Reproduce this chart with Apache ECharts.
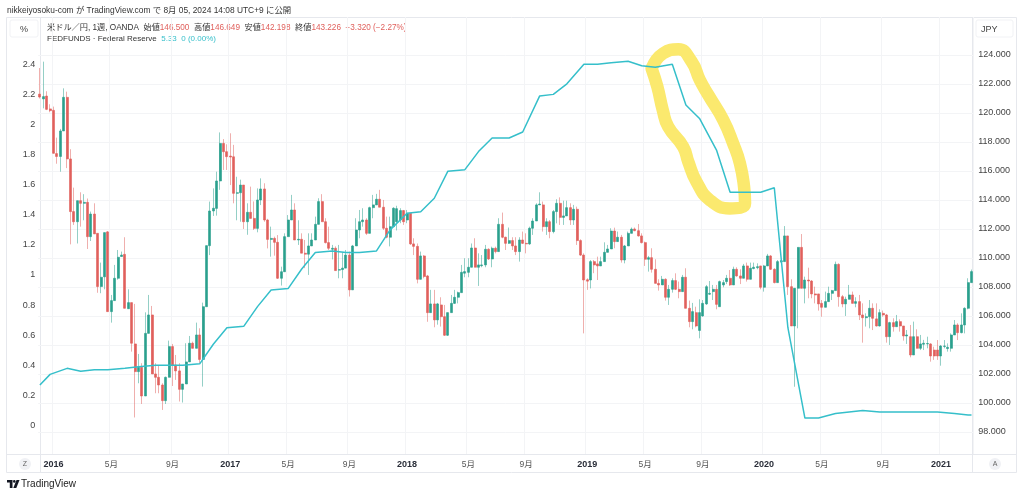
<!DOCTYPE html>
<html>
<head>
<meta charset="utf-8">
<title>USDJPY / FEDFUNDS</title>
<script src="https://cdn.jsdelivr.net/npm/echarts@6/dist/echarts.min.js"></script>
<style>
html,body{margin:0;padding:0;background:#fff;}
#main{width:1024px;height:496px;}
</style>
</head>
<body>
<div id="main"></div>
<script>
// weekly USD/JPY
var opens = [
121.3,120.97,121.17,120.28,120.18,117.2,117.0,118.76,121.08,116.83,
113.2,112.5,113.95,113.77,113.84,111.47,113.03,111.7,108.03,108.7,
111.8,106.3,107.06,108.6,110.1,110.25,106.5,106.92,104.07,102.16,
102.46,100.48,104.8,106.07,102.0,101.77,101.24,100.16,101.77,103.89,
102.62,102.21,100.94,101.31,102.83,104.12,103.77,104.69,103.0,106.64,
110.85,113.24,113.42,115.31,117.9,117.33,117.03,116.98,114.46,114.5,
115.03,112.5,113.15,112.73,112.04,114.0,114.76,112.62,111.28,111.35,
111.08,108.6,109.05,111.47,112.62,113.31,111.24,111.29,110.33,110.26,
110.83,111.24,112.32,113.89,112.5,111.06,110.6,110.67,109.16,109.2,
109.3,110.2,107.8,110.83,111.93,112.5,112.62,111.7,113.47,113.66,
114.05,113.5,112.05,111.43,112.16,112.5,112.62,113.27,112.62,113.08,
110.97,110.8,108.53,110.14,108.76,106.23,106.83,105.73,106.76,105.95,
104.67,106.23,106.87,107.29,107.61,108.95,109.01,109.36,110.69,109.36,
109.47,109.52,110.6,109.93,110.67,110.44,112.32,111.43,111.01,111.2,
110.83,110.44,111.24,111.01,110.97,112.05,112.55,113.66,113.66,112.16,
112.5,111.82,113.2,113.77,112.8,112.9,113.47,112.62,113.36,111.2,
110.2,108.5,108.48,109.75,109.59,109.45,109.75,110.39,110.62,111.86,
111.13,111.43,109.86,110.83,111.7,112.0,111.88,111.52,111.06,109.91,
110.02,109.22,108.25,108.14,108.53,107.29,107.84,108.44,107.84,107.68,
108.67,106.53,105.61,106.23,105.0,106.0,106.83,107.5,107.68,107.84,
106.64,108.14,108.37,108.6,108.14,109.22,108.76,108.6,109.45,108.53,
109.27,109.33,109.45,107.98,109.45,110.14,109.22,108.3,109.75,109.75,
111.52,108.02,105.31,107.91,110.73,107.91,108.48,108.41,107.52,107.52,
106.87,106.6,106.99,107.56,107.75,109.56,107.33,106.83,107.15,107.45,
106.87,106.99,106.07,105.88,105.95,106.53,105.8,105.31,106.18,106.07,
104.57,105.54,105.26,105.61,105.31,104.62,104.57,103.31,104.57,103.77,
104.05,104.07,104.07,103.65,103.65,103.24,103.9,103.75,103.77,104.69,
105.38,104.85,105.38,106.53,108.3];
var closes = [
121.1,121.13,120.25,120.16,117.22,117.0,118.76,121.08,116.83,113.2,
112.5,113.95,113.77,113.84,111.47,113.03,111.66,108.03,108.67,111.75,
106.3,107.06,108.6,110.05,110.2,106.53,106.92,104.12,102.16,102.46,
100.48,104.8,106.07,102.0,101.77,101.24,100.16,101.77,103.89,102.62,
102.21,100.94,101.31,102.83,104.12,103.77,104.69,103.0,106.64,110.85,
113.24,113.43,115.31,117.9,117.33,116.99,116.96,114.46,114.5,115.03,
112.5,113.15,112.73,112.04,114.0,114.76,112.62,111.28,111.35,111.08,
108.6,109.05,111.47,112.62,113.31,111.24,111.29,110.33,110.26,110.83,
111.24,112.32,113.89,112.5,111.06,110.67,110.67,109.13,109.2,109.3,
110.2,107.8,110.83,111.93,112.5,112.62,111.7,113.47,113.66,114.05,
113.5,112.05,111.43,112.16,113.43,113.4,113.27,112.5,113.08,110.97,
110.8,108.53,110.14,108.72,106.23,106.83,105.73,106.83,105.95,104.67,
106.23,106.87,107.29,107.61,109.01,109.06,109.36,110.69,109.36,109.52,
109.52,110.6,109.93,110.67,110.44,112.32,111.43,111.01,111.2,110.83,
110.44,111.24,111.01,110.97,112.05,112.55,113.66,113.72,112.16,112.5,
111.82,113.2,113.77,112.8,112.9,113.47,112.62,113.36,111.2,110.2,
108.48,108.4,109.75,109.52,109.45,109.75,110.39,110.62,111.86,111.13,
111.43,109.86,110.83,111.7,111.99,111.88,111.52,111.06,109.91,110.02,
109.22,108.25,108.14,108.53,107.29,107.84,108.44,107.84,107.68,108.67,
106.53,105.61,106.3,105.31,106.23,106.87,108.02,107.56,107.84,106.8,
108.37,108.3,108.6,108.14,109.22,108.76,108.6,109.45,108.53,109.29,
109.36,109.4,107.98,109.45,110.14,109.22,108.3,109.75,109.8,111.52,
108.02,105.31,107.91,110.73,107.91,108.48,108.41,107.52,107.45,106.83,
106.6,106.99,107.56,107.75,109.56,107.33,106.83,107.15,107.45,106.87,
106.99,106.07,105.88,105.95,106.53,105.84,105.31,106.23,106.07,104.57,
105.54,105.26,105.61,105.31,104.62,104.69,103.31,104.57,103.77,104.07,
104.12,104.1,103.24,103.24,103.24,103.93,103.93,103.84,104.69,105.38,
104.85,105.38,106.53,108.3,109.06];
var lows = [
121.0,120.32,120.2,120.05,117.2,116.5,115.95,118.76,116.2,110.94,
112.28,111.0,112.16,112.6,110.62,111.17,111.66,107.6,107.57,107.84,
106.3,105.54,107.06,108.5,110.1,106.53,106.48,103.54,99.0,101.36,
99.93,100.48,104.8,102.0,100.67,100.67,99.52,99.93,101.77,101.17,
101.59,100.1,100.03,101.31,102.83,103.77,103.77,102.74,101.13,106.64,
110.2,112.9,112.92,114.7,116.07,116.07,115.03,113.77,112.6,112.5,
112.0,111.6,112.73,111.93,111.77,113.65,112.5,110.66,110.09,110.16,
108.55,108.1,109.05,111.47,112.62,111.24,110.9,110.33,109.3,108.83,
110.83,111.24,112.32,112.5,111.0,110.55,109.9,109.13,108.6,108.6,
109.3,107.34,107.8,110.83,111.36,112.16,111.59,111.7,112.74,113.66,
113.5,111.93,111.36,110.8,112.16,111.9,112.4,112.28,112.4,110.9,
110.2,108.25,108.53,108.6,105.6,106.23,105.22,105.4,105.27,104.62,
104.62,106.23,106.83,106.87,107.61,108.67,108.67,109.36,109.36,108.07,
109.36,109.36,109.86,109.36,110.32,110.44,111.36,110.55,110.97,110.55,
110.2,109.75,110.97,110.32,110.9,111.59,112.55,113.66,111.82,111.59,
111.36,111.7,112.39,112.28,112.28,112.9,112.28,112.28,110.9,110.14,
104.8,107.8,107.9,108.95,108.48,109.45,109.75,110.39,110.62,110.67,
111.13,109.68,109.63,110.83,111.7,111.85,111.47,111.0,109.45,109.06,
108.99,108.25,107.75,108.14,107.06,106.76,107.61,107.79,107.22,107.68,
106.53,105.22,105.08,105.22,104.46,105.95,106.76,107.45,107.1,106.46,
106.64,107.98,108.2,108.07,108.14,108.71,108.2,108.6,108.37,108.53,
109.22,109.22,107.84,107.68,109.45,109.17,108.25,108.3,109.68,109.75,
107.45,105.31,101.12,105.15,107.91,106.87,107.22,107.22,106.87,106.37,
105.95,106.6,106.99,107.1,107.75,106.64,106.6,106.0,107.15,106.87,
106.6,105.72,104.16,105.27,105.15,105.03,105.27,105.27,105.95,104.16,
104.0,104.92,105.26,104.92,104.3,104.07,103.15,103.31,103.77,103.65,
103.65,103.77,102.85,102.97,102.97,102.57,103.77,103.54,103.54,104.69,
104.34,104.8,104.8,106.46,108.3];
var highs = [
123.1,123.54,121.5,120.6,120.44,118.3,118.9,121.7,121.47,117.5,
114.85,113.95,114.53,114.4,114.1,113.2,113.77,111.7,109.68,111.75,
111.86,107.45,109.52,110.55,110.44,111.43,107.84,106.92,106.83,103.38,
102.74,106.25,107.45,106.69,102.74,102.62,101.36,101.82,104.3,104.07,
103.31,102.74,101.31,104.12,104.62,104.23,105.54,105.15,106.92,110.85,
113.89,114.8,115.95,118.66,118.2,117.84,118.6,117.8,115.6,115.4,
115.03,113.77,114.92,113.9,114.8,115.49,115.15,112.7,112.16,111.47,
111.58,109.4,111.7,112.96,114.35,113.77,112.6,111.7,111.24,111.7,
111.7,112.85,114.12,114.4,112.74,112.16,110.9,110.8,110.9,110.4,
110.55,110.44,110.9,112.74,113.31,113.43,112.74,113.54,114.35,114.42,
114.7,114.0,112.85,112.85,113.5,113.6,113.43,113.31,113.31,113.08,
111.36,111.0,110.44,110.2,108.83,107.8,107.8,106.9,107.29,106.76,
106.23,107.45,107.8,107.68,109.52,109.98,109.98,111.0,111.36,110.32,
110.2,110.9,110.67,110.78,110.78,112.74,113.13,111.47,112.1,111.43,
111.43,111.43,111.82,111.7,112.16,112.74,113.77,114.53,113.89,112.74,
112.62,113.31,114.05,114.18,113.95,113.95,113.77,113.66,113.54,111.29,
110.32,108.6,109.86,109.86,110.09,110.09,111.08,110.9,112.05,112.09,
111.82,111.59,110.9,111.82,112.1,112.1,112.34,111.7,111.13,110.14,
110.67,109.91,108.53,108.76,108.6,108.14,108.6,108.94,108.37,108.83,
109.29,107.06,106.9,106.64,107.15,107.1,108.14,108.41,108.14,108.14,
108.44,108.48,108.83,109.17,109.4,109.36,109.22,109.59,109.68,109.68,
109.68,109.63,109.45,109.52,110.28,110.2,109.29,109.86,109.86,112.2,
111.52,108.53,107.91,110.73,111.65,108.71,109.33,108.48,108.02,107.52,
107.1,107.68,108.02,107.8,109.75,109.63,107.45,107.33,108.14,107.68,
107.29,107.45,106.87,106.18,107.1,106.87,106.87,106.46,106.37,106.14,
105.6,105.84,106.07,105.77,105.31,105.03,105.38,105.61,105.08,104.69,
104.35,104.57,104.12,103.88,104.34,104.0,104.34,104.11,104.8,105.72,
105.5,106.18,106.6,108.6,109.2];

// federal funds rate, one value per month from 2016-01
var fedValues = [
0.34,0.38,0.36,0.37,0.37,0.38,0.39,0.40,0.40,0.40,0.41,0.54,
0.65,0.66,0.79,0.90,0.91,1.04,1.15,1.16,1.15,1.15,1.16,1.30,
1.41,1.42,1.51,1.69,1.70,1.82,1.91,1.91,1.95,2.19,2.20,2.27,
2.40,2.40,2.41,2.42,2.39,2.38,2.40,2.13,2.04,1.83,1.55,1.55,
1.55,1.58,0.65,0.05,0.05,0.08,0.09,0.10,0.09,0.09,0.09,0.09,
0.09,0.08,0.07];
var fedFirst = 0.27, fedLast = 0.07;

// the hand drawn yellow marker: week number and JPY level
var markerWeeks = [179.9,181.6,183.2,184.8,189.2,190.7,193.1,197.1,202.9,207.4,207.1,205.9,203.9,201.0,196.6,194.1,191.7,187.8,183.3,179.9];
var markerLevels = [123.08,121.81,120.2,119.05,117.67,116.64,115.26,113.98,113.42,113.77,114.92,116.52,117.9,119.51,121.24,122.27,123.54,124.39,124.11,123.08];

var tickDates = ['2016-01-04','2016-05-02','2016-09-05','2017-01-02','2017-05-01','2017-09-04','2018-01-01','2018-05-07','2018-09-03','2019-01-07','2019-05-06','2019-09-02','2020-01-06','2020-05-04','2020-09-07','2021-01-04'];
var tickLabels = ['2016','5月','9月','2017','5月','9月','2018','5月','9月','2019','5月','9月','2020','5月','9月','2021'];
var rateTicks = [0,0.2,0.4,0.6,0.8,1,1.2,1.4,1.6,1.8,2,2.2,2.4];
var jpyTicks = [98,100,102,104,106,108,110,112,114,116,118,120,122,124];

var DAY = 86400000;
var startDay = Date.UTC(2015,11,7);
var weeks = [];
for(var i=0;i<opens.length;i++){
	weeks.push(new Date(startDay+i*7*DAY).toISOString().slice(0,10));
}

// wicks and bodies go in two layers, the wicks fainter than the bodies
var wicks = opens.map(function(o,i){
	return [o,closes[i],lows[i],highs[i]];
});
var bodies = opens.map(function(o,i){
	return [o,closes[i],Math.min(o,closes[i]),Math.max(o,closes[i])];
});

// each monthly value sits on the weekly bar holding the 1st of the month
var fedLine = [[0,fedFirst]];
fedValues.forEach(function(v,i){
	var day = Date.UTC(2016,i,1);
	fedLine.push([Math.floor((day-startDay)/(7*DAY)),v]);
});
fedLine.push([opens.length-1,fedLast]);

var marker = markerWeeks.map(function(w,i){return [w,markerLevels[i]];});

var font = '"Liberation Sans","Noto Sans CJK JP",sans-serif';
var gridCol = '#f3f4f6';
var lineCol = '#e6e8ed';
var red = '#e0605c';
var teal = '#2aa08d';
var cyan = '#35bfca';

function isTick(index,value){return tickDates.indexOf(value)>=0;}

var chart = echarts.init(document.getElementById('main'),null,{renderer:'canvas'});

chart.setOption({
	animation:false,
	backgroundColor:'#fff',
	textStyle:{fontFamily:font},
	grid:{left:38.2,top:17,width:935,height:437},
	xAxis:[{
		type:'category',
		data:weeks,
		axisLine:{show:false},
		axisTick:{show:false,alignWithLabel:true,interval:isTick},
		splitLine:{show:true,interval:isTick,lineStyle:{color:gridCol,width:1}},
		axisLabel:{
			interval:isTick,
			margin:6,
			hideOverlap:false,
			formatter:function(v){
				var t = tickLabels[tickDates.indexOf(v)];
				return t.length==4 ? '{y|'+t+'}' : '{m|'+t+'}';
			},
			rich:{
				y:{fontSize:9,fontWeight:'bold',color:'#2a2e39',fontFamily:font},
				m:{fontSize:8.5,color:'#555',fontFamily:font}
			}
		}
	},{
		type:'value',
		min:-0.5,
		max:opens.length-0.5,
		show:false
	}],
	yAxis:[{
		type:'value',
		min:-0.189,
		max:2.714,
		position:'left',
		axisLine:{show:false},
		axisTick:{show:false,customValues:rateTicks},
		splitLine:{show:false},
		axisLabel:{customValues:rateTicks,margin:3,fontSize:9,color:'#444',fontFamily:font}
	},{
		type:'value',
		min:96.48,
		max:126.62,
		position:'right',
		axisLine:{show:false},
		axisTick:{show:false,customValues:jpyTicks},
		splitLine:{show:true,lineStyle:{color:gridCol,width:1}},
		axisLabel:{
			customValues:jpyTicks,
			margin:5,
			fontSize:9,
			color:'#444',
			fontFamily:font,
			formatter:function(v){return v.toFixed(3);}
		}
	}],
	series:[{
		name:'marker',
		type:'line',
		xAxisIndex:1,
		yAxisIndex:1,
		data:marker,
		smooth:0.5,
		showSymbol:false,
		silent:true,
		z:1,
		lineStyle:{color:'#fbe96e',width:12.5,cap:'round',join:'round'}
	},{
		name:'wicks',
		type:'candlestick',
		xAxisIndex:0,
		yAxisIndex:1,
		data:wicks,
		barWidth:1,
		z:2,
		silent:true,
		itemStyle:{color:teal,color0:red,borderColor:teal,borderColor0:red,borderWidth:1,opacity:0.5}
	},{
		name:'USDJPY',
		type:'candlestick',
		xAxisIndex:0,
		yAxisIndex:1,
		data:bodies,
		barWidth:2.4,
		barGap:'-100%',
		z:3,
		itemStyle:{color:teal,color0:red,borderColor:teal,borderColor0:red,borderWidth:0.6}
	},{
		name:'FEDFUNDS',
		type:'line',
		xAxisIndex:1,
		yAxisIndex:0,
		data:fedLine,
		showSymbol:false,
		z:4,
		lineStyle:{color:cyan,width:1.5}
	}],
	graphic:[
		{type:'rect',silent:true,shape:{x:6.5,y:17.5,width:1010,height:455},style:{fill:'none',stroke:lineCol,lineWidth:1}},
		{type:'line',silent:true,shape:{x1:40.5,y1:17,x2:40.5,y2:472},style:{stroke:lineCol,lineWidth:1}},
		{type:'line',silent:true,shape:{x1:972.5,y1:17,x2:972.5,y2:472},style:{stroke:lineCol,lineWidth:1}},
		{type:'line',silent:true,shape:{x1:7,y1:454.5,x2:1017,y2:454.5},style:{stroke:lineCol,lineWidth:1}},
		{type:'rect',silent:true,shape:{x:10,y:20,width:28,height:17,r:2},style:{fill:'#fff',stroke:'#f1f2f5'}},
		{type:'rect',silent:true,shape:{x:976,y:20,width:37,height:17,r:2},style:{fill:'#fff',stroke:'#f1f2f5'}},
		{type:'text',silent:true,style:{text:'%',x:20,y:25,fill:'#444',font:'9px '+font}},
		{type:'text',silent:true,style:{text:'JPY',x:981,y:25,fill:'#444',font:'9px '+font}},
		{type:'text',silent:true,style:{text:'nikkeiyosoku-com が TradingView.com で 8月 05, 2024 14:08 UTC+9 に公開',x:7,y:6,fill:'#333',font:'8.4px '+font}},
		{type:'text',silent:true,style:{
			x:47,y:24,
			text:'{k|米ドル／円, 1週, OANDA  始値}{r|146.500}{k|  高値}{r|146.649}{k|  安値}{r|142.198}{k|  終値}{r|143.226}{r|  −3.320 (−2.27%)}',
			font:'8.2px '+font,
			rich:{k:{fill:'#333',font:'8.2px '+font},r:{fill:red,font:'8.2px '+font}}
		}},
		{type:'text',silent:true,style:{
			x:47,y:35,
			text:'{k|FEDFUNDS · Federal Reserve}{c|  5.33  0 (0.00%)}',
			font:'8px '+font,
			rich:{k:{fill:'#333',font:'8px '+font},c:{fill:cyan,font:'8px '+font}}
		}},
		{type:'circle',silent:true,shape:{cx:25,cy:464,r:6},style:{fill:'#f0f1f5'}},
		{type:'text',silent:true,style:{text:'Z',x:25,y:464,align:'center',verticalAlign:'middle',fill:'#666',font:'7px '+font}},
		{type:'circle',silent:true,shape:{cx:995,cy:464,r:6},style:{fill:'#f0f1f5'}},
		{type:'text',silent:true,style:{text:'A',x:995,y:464,align:'center',verticalAlign:'middle',fill:'#666',font:'7px '+font}},
		{type:'polygon',silent:true,shape:{points:[[7,480],[12.5,480],[12.5,488],[9.8,488],[9.8,482.6],[7,482.6]]},style:{fill:'#131722'}},
		{type:'circle',silent:true,shape:{cx:14.3,cy:481.4,r:1.3},style:{fill:'#131722'}},
		{type:'polygon',silent:true,shape:{points:[[16.5,480],[19.5,480],[16.3,488],[13.3,488]]},style:{fill:'#131722'}},
		{type:'text',silent:true,style:{text:'TradingView',x:21,y:479,fill:'#222',font:'10px '+font}}
	]
});
</script>
</body>
</html>
